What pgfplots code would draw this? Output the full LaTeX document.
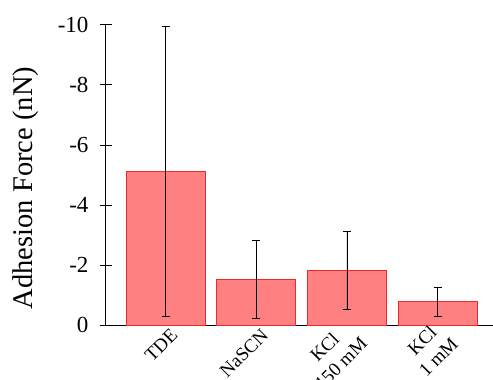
\documentclass[border=0pt]{standalone}
\usepackage{pgfplots}
\pgfplotsset{compat=1.18}
\usepackage{fontspec}
\setmainfont{Liberation Serif}
\definecolor{barfill}{RGB}{255,128,128}
\definecolor{baredge}{RGB}{240,40,40}
\begin{document}
\begin{tikzpicture}
\begin{axis}[
  name=ax,
  scale only axis, width=387pt, height=300pt,
  xmin=0.344, xmax=4.61, ymin=-10, ymax=0, y dir=reverse,
  axis x line=bottom, axis y line=left,
  axis line style={-, line width=1pt},
  xtick={1,2,3,4},
  xticklabels={TDE, NaSCN, {KCl\\150 mM}, {KCl\\1 mM}},
  x tick style={draw=none},
  xticklabel style={rotate=45, anchor=east, align=center, xshift=8.7pt, yshift=-7pt, font=\fontsize{19}{23}\selectfont},
  ytick={-10,-8,-6,-4,-2,0},
  yticklabels={-10,-8,-6,-4,-2,0},
  y tick style={line width=1pt, black},
  tick align=center, major tick length=12pt,
  yticklabel style={font=\fontsize{23}{24}\selectfont, xshift=-8pt},
  ylabel={Adhesion Force (nN)},
  every axis y label/.style={at={(axis description cs:0,0.5)}, rotate=90, anchor=center, yshift=80pt, xshift=-13pt},
  ylabel style={font=\fontsize{28.5}{30}\selectfont},
  clip=false,
]
\addplot[ybar, bar width=0.87, fill=barfill, draw=baredge, line width=0.6pt,
  error bars/.cd, y dir=both, y explicit,
  error bar style={black, line width=0.8pt},
  error mark options={rotate=90, mark size=4pt, black, line width=0.8pt}]
  coordinates {
  (1,-5.13) +- (0,4.83)
  (2,-1.51) +- (0,1.30)
  (3,-1.82) +- (0,1.30)
  (4,-0.78) +- (0,0.49)
  };
\end{axis}
\pgfresetboundingbox
\path[use as bounding box] ([shift={(-106pt,-54pt)}]ax.south west) rectangle ([shift={(0pt,25pt)}]ax.north east);
\end{tikzpicture}
\end{document}
